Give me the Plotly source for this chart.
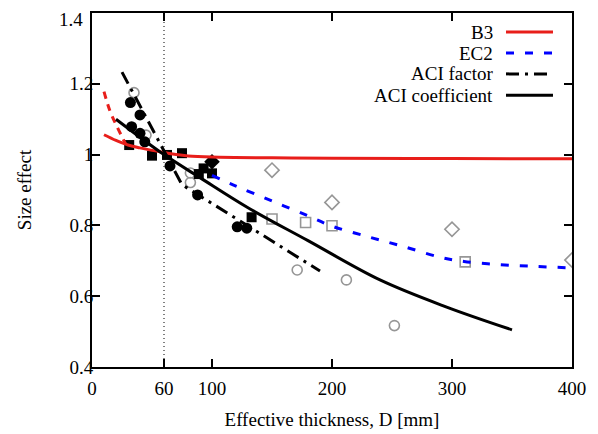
import plotly.graph_objects as go

# ---- data ----
b3_D = [10, 20, 30, 40, 50, 60, 70, 80, 100, 150, 200, 300, 400]
b3_val = [1.056, 1.040, 1.027, 1.019, 1.012, 1.006, 1.000, 0.996, 0.993, 0.991, 0.990, 0.989, 0.988]

b3x_D = [10, 15, 21, 28]
b3x_val = [1.178, 1.123, 1.078, 1.030]

ec2_D = [100, 120, 150, 180, 200, 230, 260, 290, 310, 340, 370, 400]
ec2_val = [0.941, 0.911, 0.869, 0.827, 0.798, 0.768, 0.740, 0.710, 0.698, 0.689, 0.684, 0.680]

acif_D = [25, 55, 75, 100, 135, 190]
acif_val = [1.233, 1.043, 0.915, 0.862, 0.787, 0.671]

acic_D = [20, 60, 90, 130, 180, 240, 295, 350]
acic_val = [1.100, 1.000, 0.935, 0.850, 0.757, 0.646, 0.570, 0.505]

bc_D = [32, 40, 33, 40, 44, 65, 88, 121, 129]
bc_val = [1.147, 1.112, 1.079, 1.060, 1.036, 0.968, 0.886, 0.796, 0.792]

bs_D = [31, 50, 62.5, 75, 93, 89, 100, 133]
bs_val = [1.027, 0.997, 0.999, 1.004, 0.961, 0.945, 0.947, 0.823]

bd_D = [100]
bd_val = [0.980]

gc_D = [35, 45, 82, 82, 171, 212, 252]
gc_val = [1.175, 1.055, 0.948, 0.921, 0.674, 0.646, 0.517]

gs_D = [150, 178, 200, 311]
gs_val = [0.818, 0.808, 0.799, 0.697]

gd_D = [150, 200, 300, 400]
gd_val = [0.956, 0.865, 0.789, 0.702]

x_ticks = [0, 60, 100, 200, 300, 400]
y_ticks = [0.4, 0.6, 0.8, 1.0, 1.2, 1.4]
y_ticktext = ["0.4", "0.6", "0.8", "1", "1.2", "1.4"]

legend_names = ["B3", "EC2", "ACI factor", "ACI coefficient"]

FONT = "Liberation Serif"
FS = 19
RED = "rgb(232,30,26)"
BLUE = "rgb(0,0,255)"
GRAY = "rgb(150,150,150)"
DASHDOT = "13px,6px,3px,6px"
DASH = "8px,11px"

fig = go.Figure()

# markers
fig.add_trace(go.Scatter(x=gc_D, y=gc_val, mode="markers", showlegend=False,
                         marker=dict(symbol="circle-open", size=10, color=GRAY, line=dict(width=1.6, color=GRAY))))
fig.add_trace(go.Scatter(x=gs_D, y=gs_val, mode="markers", showlegend=False,
                         marker=dict(symbol="square-open", size=10, color=GRAY, line=dict(width=1.6, color=GRAY))))
fig.add_trace(go.Scatter(x=gd_D, y=gd_val, mode="markers", showlegend=False,
                         marker=dict(symbol="diamond-open", size=11, color=GRAY, line=dict(width=1.6, color=GRAY))))
fig.add_trace(go.Scatter(x=bc_D, y=bc_val, mode="markers", showlegend=False,
                         marker=dict(symbol="circle", size=11, color="black")))
fig.add_trace(go.Scatter(x=bs_D, y=bs_val, mode="markers", showlegend=False,
                         marker=dict(symbol="square", size=10, color="black")))
fig.add_trace(go.Scatter(x=bd_D, y=bd_val, mode="markers", showlegend=False,
                         marker=dict(symbol="diamond", size=12, color="black")))

# lines
fig.add_trace(go.Scatter(x=b3x_D, y=b3x_val, mode="lines", showlegend=False,
                         line=dict(color=RED, width=3, dash="7px,6px", shape="spline")))
fig.add_trace(go.Scatter(x=b3_D, y=b3_val, mode="lines", showlegend=False,
                         line=dict(color=RED, width=3, shape="spline")))
fig.add_trace(go.Scatter(x=ec2_D, y=ec2_val, mode="lines", showlegend=False,
                         line=dict(color=BLUE, width=3, dash=DASH, shape="spline")))
fig.add_trace(go.Scatter(x=acif_D, y=acif_val, mode="lines", showlegend=False,
                         line=dict(color="black", width=3, dash=DASHDOT)))
fig.add_trace(go.Scatter(x=acic_D, y=acic_val, mode="lines", showlegend=False,
                         line=dict(color="black", width=3, shape="spline")))

# vertical dotted reference at D = 60
fig.add_shape(type="line", xref="x", yref="paper", x0=60, x1=60, y0=0, y1=1,
              line=dict(color="black", width=1, dash="1px,3px"))

# manual legend (text right-aligned, sample on the right)
leg_styles = [dict(color=RED, width=3), dict(color=BLUE, width=3, dash=DASH),
              dict(color="black", width=3, dash=DASHDOT), dict(color="black", width=3)]
leg_y = [0.946, 0.887, 0.828, 0.768]
for name, st, yy in zip(legend_names, leg_styles, leg_y):
    fig.add_annotation(xref="paper", yref="paper", x=0.8396, y=yy, text=name, showarrow=False,
                       xanchor="right", yanchor="middle", font=dict(family=FONT, size=FS, color="black"))
    fig.add_shape(type="line", xref="paper", yref="paper", x0=0.8625, x1=0.9604, y0=yy, y1=yy, line=st)

# the top y tick label is drawn as an annotation nudged down so it is not clipped
y_ticktext_axis = [t if v != y_ticks[-1] else "" for v, t in zip(y_ticks, y_ticktext)]
fig.add_annotation(xref="paper", yref="y", x=0, y=y_ticks[-1], text=y_ticktext[-1], showarrow=False,
                   xanchor="right", yanchor="middle", xshift=-7, yshift=-6,
                   font=dict(family=FONT, size=FS, color="black"))

axis_common = dict(showline=True, linewidth=2, linecolor="black", mirror="ticks", ticks="inside",
                   ticklen=8, tickwidth=1.5, tickcolor="black", showgrid=False, zeroline=False,
                   automargin=False, ticklabeloverflow="allow",
                   tickfont=dict(family=FONT, size=FS, color="black"))

fig.update_xaxes(range=[0, 400], tickvals=x_ticks, ticktext=[str(v) for v in x_ticks],
                 ticklabelstandoff=3,
                 title=dict(text="Effective thickness, D [mm]", font=dict(family=FONT, size=FS, color="black"),
                            standoff=15),
                 **axis_common)
fig.update_yaxes(range=[0.4, 1.4], tickvals=y_ticks, ticktext=y_ticktext_axis,
                 ticklabelstandoff=-7,
                 title=dict(text="Size effect", font=dict(family=FONT, size=FS, color="black"), standoff=33),
                 **axis_common)

# page body has an 8px margin, so the figure is offset by (8, 8)
fig.update_layout(width=598, height=434, margin=dict(l=84, r=34, t=5, b=75),
                  plot_bgcolor="white", paper_bgcolor="white", showlegend=False,
                  font=dict(family=FONT, size=FS, color="black"))

fig.write_html("out.html")
